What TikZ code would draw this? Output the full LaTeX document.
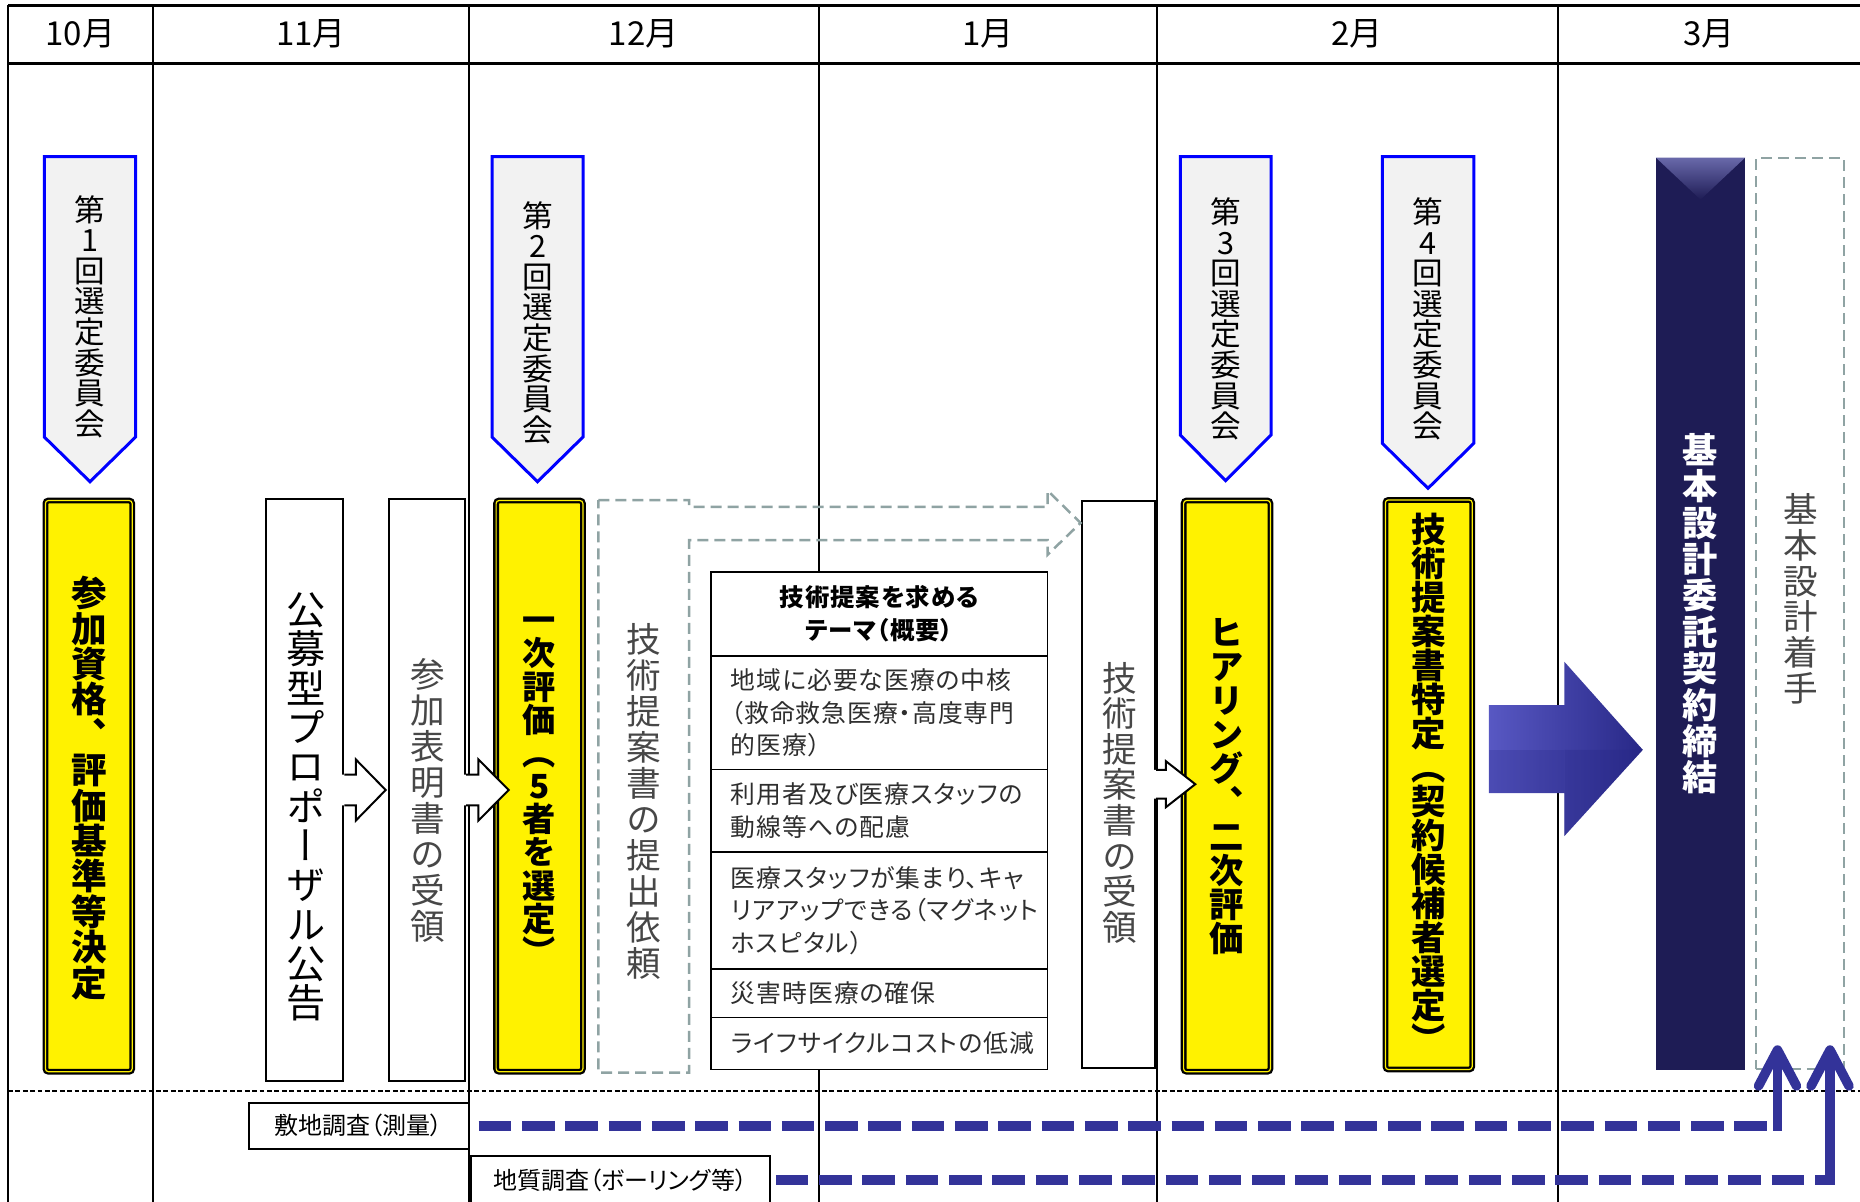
\documentclass[tikz,border=0pt]{standalone}
\usepackage{fontspec}
\setmainfont{Noto Sans CJK JP}
\newfontfamily\vjp[RawFeature=+vert]{Noto Sans CJK JP}
\newfontfamily\hjp[RawFeature=+palt]{Noto Sans CJK JP}
\newfontfamily\tjp[RawFeature=+palt,LetterSpace=4]{Noto Sans CJK JP}
\usetikzlibrary{calc}
\definecolor{penfill}{RGB}{242,242,242}
\definecolor{penblue}{RGB}{0,0,255}
\definecolor{dashgray}{RGB}{143,163,163}
\definecolor{navy}{RGB}{30,28,85}
\definecolor{navylight}{RGB}{105,105,170}
\definecolor{bblue}{RGB}{51,51,153}
\definecolor{arrowlight}{RGB}{88,88,195}
\definecolor{arrowdark}{RGB}{40,40,135}

\makeatletter
\def\vt@end{\vt@end}
\newcommand\vtxt[2]{\vbox{\baselineskip=#1\relax\lineskiplimit=-\maxdimen\lineskip=0pt\vt@a#2\vt@end}}
\def\vt@a#1{\ifx#1\vt@end\else\hbox to 1.3em{\hss#1\hss}\expandafter\vt@a\fi}
\makeatother

% #1 style, #2 box node, #3 tip coordinate, #4 head length, #5 shaft half, #6 head half
\newcommand\callout[6][]{%
  \fill[white] ($(#2.east|-#3)+(-2.5,-#5)$) -- ($(#3)+(-#4,-#5)$) -- ($(#3)+(-#4,-#6)$) -- (#3) -- ($(#3)+(-#4,#6)$) -- ($(#3)+(-#4,#5)$) -- ($(#2.east|-#3)+(-2.5,#5)$) -- cycle;
  \draw[#1] ($(#2.east|-#3)+(0,-#5)$) -- ($(#3)+(-#4,-#5)$) -- ($(#3)+(-#4,-#6)$) -- (#3) -- ($(#3)+(-#4,#6)$) -- ($(#3)+(-#4,#5)$) -- ($(#2.east|-#3)+(0,#5)$);
}

\begin{document}
\begin{tikzpicture}[x=0.5pt,y=-0.5pt,
  hdr/.style={line width=1.5pt},
  col/.style={line width=1pt},
  month/.style={font=\hjp\fontsize{16.5pt}{18pt}\selectfont, inner sep=0pt},
  pennant/.style={fill=penfill, draw=penblue, line width=1.5pt, line join=miter},
  pentext/.style={font=\vjp\fontsize{15.3pt}{16pt}\selectfont, inner sep=0pt},
  ybox/.style={draw=black, line width=1.15pt, double=yellow, double distance=0.6pt, fill=yellow, rounded corners=1.5pt, minimum width=43.4pt, minimum height=285.6pt, inner sep=0pt},
  ytext/.style={font=\vjp\bfseries\fontsize{17.2pt}{18pt}\selectfont, inner sep=0pt},
  wbox/.style={draw=black, line width=1pt, fill=white, inner sep=0pt},
  wline/.style={draw=black, line width=1pt, line join=miter},
  lighttext/.style={font=\vjp\fontsize{17.3pt}{18pt}\selectfont, text=black!72, inner sep=0pt},
  dashbox/.style={draw=dashgray, line width=1.25pt, dash pattern=on 5.5pt off 3pt},
  trow/.style={draw=black, line width=0.75pt, fill=white, minimum width=168.4pt, text width=148.4pt, align=left, inner xsep=10pt, inner ysep=0pt, font=\tjp\fontsize{12.4pt}{16.25pt}\selectfont, text=black!82},
  thead/.style={align=center, font=\tjp\bfseries\fontsize{12.2pt}{16.3pt}\selectfont, text=black},
  blabel/.style={wbox, font=\hjp\fontsize{12pt}{14pt}\selectfont},
  bdash/.style={draw=bblue, line width=4.75pt, dash pattern=on 16.3pt off 5.35pt},
  bsolid/.style={draw=bblue, line width=4.75pt},
  bhead/.style={draw=bblue, line width=4.75pt, line cap=round, line join=round}
]
\useasboundingbox (0,0) rectangle (1860,1201);
\fill[white] (0,0) rectangle (1860,1201);

% ---------- grid ----------
\foreach \x in {8,153,469,818.5,1157,1557.5} \draw[col] (\x,5) -- (\x,1215);
\draw[hdr] (8,5) -- (1870,5);
\draw[hdr] (8,63) -- (1870,63);
\draw[line width=1pt, dash pattern=on 2.4pt off 1.3pt] (8,1091) -- (1870,1091);

\node[month] (m10) at (80.5,34) {10月};
\node[month] (m11) at (311,34) {11月};
\node[month] (m12) at (643.7,34) {12月};
\node[month] (m1) at (987.7,34) {1月};
\node[month] (m2) at (1357,34) {2月};
\node[month] (m3) at (1708.7,34) {3月};

% ---------- pennants ----------
\draw[pennant] (44.3,156.7) -- (135.6,156.7) -- (135.6,437) -- (90,481.7) -- (44.3,437) -- cycle;
\node[pentext] (pen1) at (90,316.5) {\vtxt{15.3pt}{第1回選定委員会}};
\draw[pennant] (492,156.7) -- (583,156.7) -- (583,437) -- (537.5,481.7) -- (492,437) -- cycle;
\node[pentext] (pen2) at (537.5,322.5) {\vtxt{15.3pt}{第2回選定委員会}};
\draw[pennant] (1180.3,156.7) -- (1271,156.7) -- (1271,435) -- (1225.6,480.7) -- (1180.3,435) -- cycle;
\node[pentext] (pen3) at (1225.6,319) {\vtxt{15.3pt}{第3回選定委員会}};
\draw[pennant] (1382.3,156.7) -- (1473.8,156.7) -- (1473.8,443.3) -- (1428,488.3) -- (1382.3,443.3) -- cycle;
\node[pentext] (pen4) at (1428,319) {\vtxt{15.3pt}{第4回選定委員会}};

% ---------- yellow boxes ----------
\node[ybox] (y1) at (88.8,786.1) {};
\node[ytext, font=\vjp\bfseries\fontsize{17.8pt}{18pt}\selectfont] (y1t) at (88.8,788) {\vtxt{17.7pt}{参加資格、評価基準等決定}};
\node[ybox] (y2) at (539.5,786.1) {};
\node[ytext, font=\vjp\bfseries\fontsize{16.6pt}{17pt}\selectfont] (y2t) at (539.5,790.8) {\vtxt{16.6pt}{一次評価（5者を選定）}};
\node[ybox] (y3) at (1227,786.1) {};
\node[ytext] (y3t) at (1227,787) {\vtxt{17pt}{ヒアリング、二次評価}};
\node[ybox, minimum height=284.8pt] (y4) at (1428.8,784.7) {};
\node[ytext] (y4t) at (1428.8,783) {\vtxt{17pt}{技術提案書特定（契約候補者選定）}};

% ---------- white boxes ----------
\node[wbox, minimum width=38.7pt, minimum height=290.65pt] (koubo) at (304.7,790) {};
\node[font=\vjp\fontsize{19.6pt}{20pt}\selectfont, inner sep=0pt] (kouboT) at (306,807) {\vtxt{19.65pt}{公募型プロポーザル公告}};
\node[wbox, minimum width=38pt, minimum height=290.65pt] (sanka) at (427,790) {};
\node[lighttext] (sankaT) at (428,800.5) {\vtxt{18pt}{参加表明書の受領}};
\node[wbox, minimum width=36.35pt, minimum height=283.7pt] (juryou) at (1118.65,784.7) {};
\node[lighttext] (juryouT) at (1119.6,802.5) {\vtxt{17.8pt}{技術提案書の受領}};

% ---------- dashed callout ----------
\coordinate (t4) at (1080.6,522.9);
\draw[dashbox] (598.3,500) -- (689.1,500) -- (689.1,506.8) -- (1047.7,506.8) -- (1047.7,490.7) -- (t4) -- (1047.7,554.6) -- (1047.7,540) -- (689.1,540) -- (689.1,1072.7) -- (598.3,1072.7) -- cycle;
\node[lighttext] (teianT) at (644,801.5) {\vtxt{18pt}{技術提案書の提出依頼}};

% ---------- table ----------
\node[trow, thead, minimum height=42.1pt] (th) at (879.3,613.9) {技術提案を求める\\テーマ（概要）};
\node[trow, minimum height=56.85pt] (r1) at (879.3,712.85) {地域に必要な医療の中核\\（救命救急医療・高度専門\\的医療）};
\node[trow, minimum height=41.15pt] (r2) at (879.3,810.85) {利用者及び医療スタッフの\\動線等への配慮};
\node[trow, minimum height=58.5pt] (r3) at (879.3,910.5) {医療スタッフが集まり、キャ\\リアアップできる（マグネット\\ホスピタル）};
\node[trow, minimum height=24.35pt] (r4) at (879.3,993.35) {災害時医療の確保};
\node[trow, minimum height=25.85pt] (r5) at (879.3,1043.55) {ライフサイクルコストの低減};

% ---------- callout arrows ----------
\coordinate (t1) at (385.7,790);
\coordinate (t2) at (508.7,790);
\coordinate (t3) at (1195.3,784.2);
\callout[wline]{koubo}{t1}{29.9}{15.3}{30.6}
\callout[wline]{sanka}{t2}{30.3}{15.3}{30.6}
\callout[wline]{juryou}{t3}{29.4}{14.3}{23}

% ---------- March ----------
\shade[left color=arrowlight, right color=arrowdark] (1488.8,705) -- (1564.4,705) -- (1564.4,661.8) -- (1642.8,749.8) -- (1564.4,836) -- (1564.4,793) -- (1488.8,793) -- cycle;
\fill[arrowdark, opacity=0.35] (1564.4,749.8) -- (1642.8,749.8) -- (1564.4,836) -- cycle;
\fill[arrowdark, opacity=0.25] (1488.8,749.8) -- (1564.4,749.8) -- (1564.4,793) -- (1488.8,793) -- cycle;

\node[fill=navy, minimum width=44.25pt, minimum height=455.75pt, inner sep=0pt] (keiyaku) at (1700.5,613.75) {};
\shade[top color=navylight, bottom color=navy] (keiyaku.north west) -- (keiyaku.north east) -- ($(keiyaku.north)+(0,42)$) -- cycle;
\node[font=\vjp\bfseries\fontsize{17.6pt}{18pt}\selectfont, text=white, inner sep=0pt] (keiyakuT) at (1700.5,613.7) {\vtxt{18.2pt}{基本設計委託契約締結}};

\node[dashbox, minimum width=44pt, minimum height=455.4pt, inner sep=0pt] (chakushu) at (1799.9,613.35) {};
\node[lighttext] (chakushuT) at (1801,598.7) {\vtxt{17.85pt}{基本設計着手}};

% ---------- surveys ----------
\node[blabel, minimum width=109.85pt, minimum height=23.15pt] (survey) at (358.85,1125.85) {敷地調査（測量）};
\node[blabel, minimum width=149.65pt, minimum height=24pt] (geo) at (620.35,1180) {地質調査（ボーリング等）};

\coordinate (a1) at (1777.5,1050);
\coordinate (a2) at (1830,1050);
\coordinate (c1) at (survey.east -| a1);
\coordinate (c2) at (geo.east -| a2);
\draw[bdash] ([xshift=4.5pt]survey.east) -- (c1);
\draw[bsolid] ([yshift=-2.4pt]c1) -- (a1);
\draw[bhead] ($(a1)+(-19,36)$) -- (a1) -- ($(a1)+(19,36)$);
\draw[bdash] ([xshift=2.4pt]geo.east) -- (c2);
\draw[bsolid] ([yshift=-2.4pt]c2) -- (a2);
\draw[bhead] ($(a2)+(-19,36)$) -- (a2) -- ($(a2)+(19,36)$);
\end{tikzpicture}
\end{document}
